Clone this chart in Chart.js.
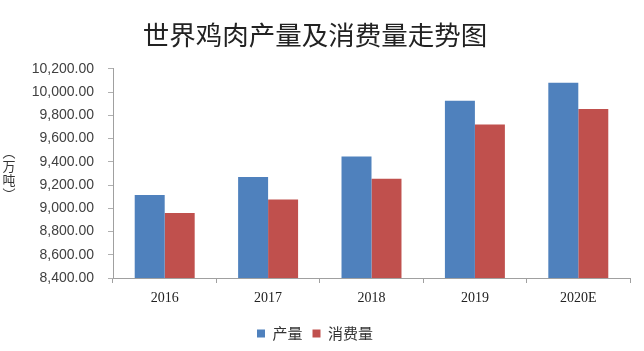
<!DOCTYPE html>
<html>
<head>
<meta charset="utf-8">
<script src="https://cdn.jsdelivr.net/npm/chart.js@4"></script>
<style>
  html, body { margin: 0; padding: 0; background: #fff; }
  #wrap { position: relative; width: 644px; height: 351px; }
</style>
</head>
<body>
<div id="wrap">
  <canvas id="chickenChart"></canvas>
</div>
<script>
const years = ['2016', '2017', '2018', '2019', '2020E'];
const production = [9115, 9270, 9445, 9925, 10080];
const consumption = [8960, 9075, 9255, 9720, 9855];
const yMin = 8400;
const yMax = 10200;
const yStep = 200;
const unitChars = ['︵', '万', '吨', '︶'];

const ctx = document.getElementById('chickenChart');

// vertical unit label, one upright character per line
const unitLabel = {
  id: 'unitLabel',
  afterDraw(chart) {
    const c = chart.ctx;
    const mid = (chart.chartArea.top + chart.chartArea.bottom) / 2;
    const step = 14;
    c.save();
    c.font = '13px "Noto Sans CJK SC", sans-serif';
    c.fillStyle = '#333';
    c.textAlign = 'center';
    c.textBaseline = 'middle';
    unitChars.forEach((ch, i) => {
      c.fillText(ch, 9, mid + (i - 1.5) * step);
    });
    c.restore();
  }
};

new Chart(ctx, {
  type: 'bar',
  data: {
    labels: years,
    datasets: [
      {
        label: '产量',
        data: production,
        backgroundColor: '#4f81bd',
        categoryPercentage: 0.58,
        barPercentage: 1.0
      },
      {
        label: '消费量',
        data: consumption,
        backgroundColor: '#c0504d',
        categoryPercentage: 0.58,
        barPercentage: 1.0
      }
    ]
  },
  plugins: [unitLabel],
  options: {
    responsive: true,
    maintainAspectRatio: false,
    animation: false,
    layout: { padding: { left: 0, right: 14, top: 0, bottom: 0 } },
    plugins: {
      title: {
        display: true,
        text: '世界鸡肉产量及消费量走势图',
        color: '#222',
        font: { family: '"Noto Sans CJK SC", sans-serif', size: 26.5, weight: 'normal' },
        padding: { top: 19, bottom: 18 }
      },
      legend: {
        position: 'bottom',
        labels: {
          boxWidth: 8,
          boxHeight: 8,
          padding: 10,
          color: '#333',
          font: { family: '"Noto Sans CJK SC", sans-serif', size: 15 }
        }
      },
      tooltip: { enabled: false }
    },
    scales: {
      y: {
        min: yMin,
        max: yMax,
        afterFit: (scale) => { scale.width = 113; },
        ticks: {
          stepSize: yStep,
          padding: 14,
          color: '#404040',
          font: { family: '"Liberation Sans", sans-serif', size: 14 },
          callback: (v) => v.toLocaleString('en-US', { minimumFractionDigits: 2, maximumFractionDigits: 2 })
        },
        grid: { drawOnChartArea: false, tickLength: 5, color: '#b0b0b0' },
        border: { color: '#a0a0a0' }
      },
      x: {
        afterFit: (scale) => { scale.height = 38; },
        ticks: {
          padding: 7,
          color: '#222',
          font: { family: '"Liberation Serif", serif', size: 14 }
        },
        grid: { drawOnChartArea: false, offset: true, tickLength: 5, color: '#a0a0a0' },
        border: { color: '#a0a0a0' }
      }
    }
  }
});
</script>
</body>
</html>
